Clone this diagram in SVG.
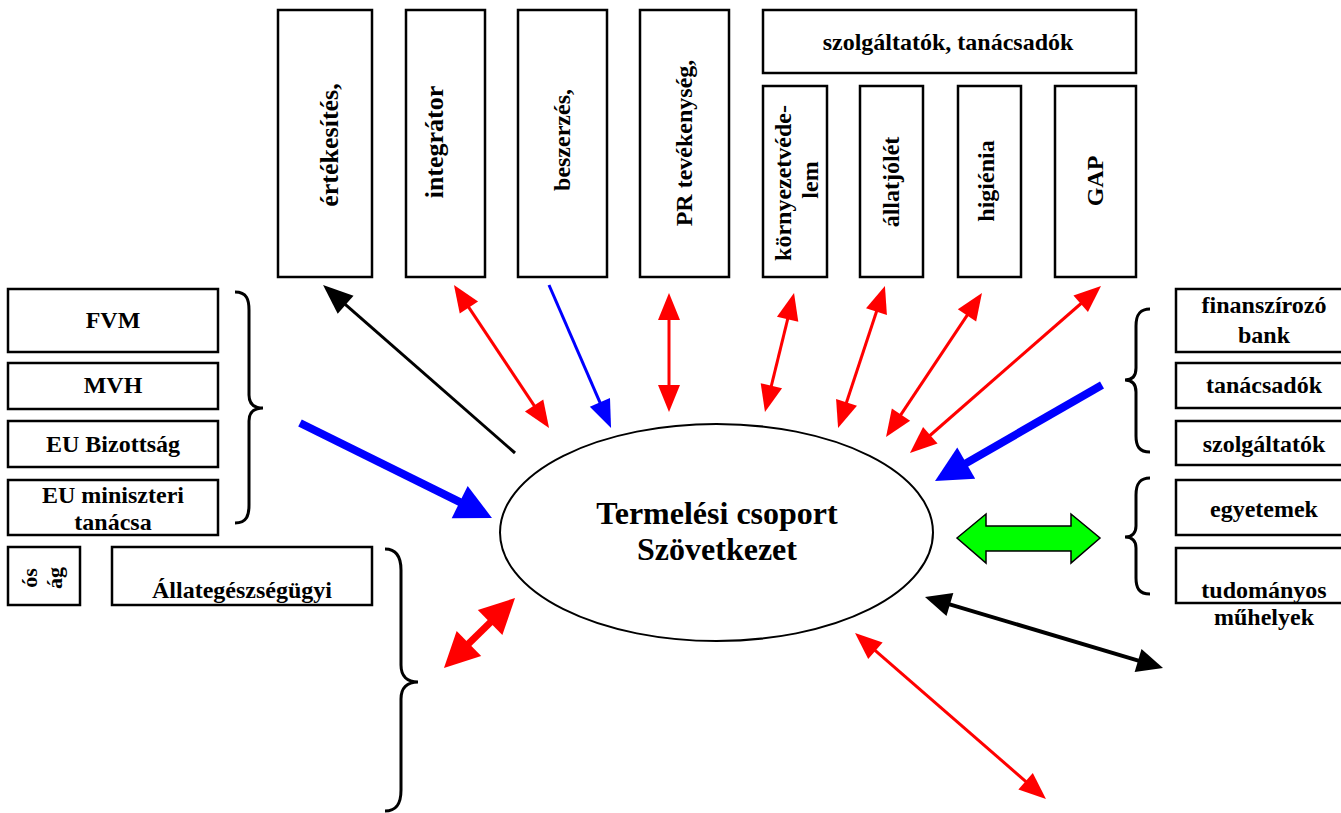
<svg xmlns="http://www.w3.org/2000/svg" width="1341" height="813" viewBox="0 0 1341 813">
<style>
.box{fill:#fff;stroke:#000;stroke-width:2.5}
.t{font-family:"Liberation Serif","Times New Roman",serif;font-weight:bold;font-size:24px;fill:#000}
.m{text-anchor:middle}
.big{font-size:26px}
.huge{font-size:32px}
.sm{font-size:22px}
.brace{fill:none;stroke:#000;stroke-width:3}
.red{stroke:#f00;stroke-width:3;fill:none}
</style>
<defs>
<marker id="mRed" markerUnits="userSpaceOnUse" markerWidth="27" markerHeight="22" refX="2" refY="11" orient="auto-start-reverse" overflow="visible"><path d="M0,0 L27,11 L0,22 z" fill="#f00"/></marker>
<marker id="mBlack" markerUnits="userSpaceOnUse" markerWidth="30" markerHeight="24" refX="2" refY="12" orient="auto-start-reverse" overflow="visible"><path d="M0,0 L30,12 L0,24 z" fill="#000"/></marker>
<marker id="mBlack2" markerUnits="userSpaceOnUse" markerWidth="26" markerHeight="24" refX="2" refY="12" orient="auto-start-reverse" overflow="visible"><path d="M0,0 L26,12 L0,24 z" fill="#000"/></marker>
<marker id="mBlue" markerUnits="userSpaceOnUse" markerWidth="28" markerHeight="22" refX="2" refY="11" orient="auto-start-reverse" overflow="visible"><path d="M0,0 L28,11 L0,22 z" fill="#00f"/></marker>
<marker id="mBlueBig" markerUnits="userSpaceOnUse" markerWidth="36" markerHeight="36" refX="2" refY="18" orient="auto-start-reverse" overflow="visible"><path d="M0,0 L36,18 L0,36 z" fill="#00f"/></marker>
<marker id="mRedBig" markerUnits="userSpaceOnUse" markerWidth="35" markerHeight="35" refX="2" refY="17.5" orient="auto-start-reverse" overflow="visible"><path d="M0,0 L35,17.5 L0,35 z" fill="#f00"/></marker>
</defs>

<g id="top-nodes">
<g id="n-ertekesites"><rect class="box" x="278" y="10" width="94" height="267"/><text class="t m big" transform="translate(338,145) rotate(-90)">értékesítés,</text></g>
<g id="n-integrator"><rect class="box" x="406" y="10" width="79" height="267"/><text class="t m big" transform="translate(443,142) rotate(-90)">integrátor</text></g>
<g id="n-beszerzes"><rect class="box" x="518" y="10" width="89" height="267"/><text class="t m" transform="translate(570,140) rotate(-90)">beszerzés,</text></g>
<g id="n-pr"><rect class="box" x="640" y="10" width="89" height="267"/><text class="t m" transform="translate(692,143) rotate(-90)">PR tevékenység,</text></g>
<g id="n-szolg"><rect class="box" x="763" y="10" width="373" height="63"/><text class="t m" x="948" y="50">szolgáltatók, tanácsadók</text></g>
<g id="n-kornyezet"><rect class="box" x="763" y="86" width="64" height="191"/><text class="t m" transform="translate(791,183) rotate(-90)">környezetvéde-</text><text class="t m" transform="translate(818,180) rotate(-90)">lem</text></g>
<g id="n-allatjolet"><rect class="box" x="860" y="86" width="63" height="191"/><text class="t m" transform="translate(899,182) rotate(-90)">állatjólét</text></g>
<g id="n-higienia"><rect class="box" x="958" y="86" width="63" height="191"/><text class="t m" transform="translate(994,181) rotate(-90)">higiénia</text></g>
<g id="n-gap"><rect class="box" x="1055" y="86" width="81" height="191"/><text class="t m" transform="translate(1103,181) rotate(-90)">GAP</text></g>
</g>

<g id="left-nodes">
<g id="n-fvm"><rect class="box" x="8" y="289" width="210" height="63"/><text class="t m" x="113" y="328">FVM</text></g>
<g id="n-mvh"><rect class="box" x="8" y="363" width="210" height="46"/><text class="t m" x="113" y="393">MVH</text></g>
<g id="n-eub"><rect class="box" x="8" y="421" width="210" height="46"/><text class="t m" x="113" y="452">EU Bizottság</text></g>
<g id="n-eum"><rect class="box" x="8" y="480" width="210" height="55"/><text class="t m" x="113" y="503">EU miniszteri</text><text class="t m" x="113" y="530">tanácsa</text></g>
<g id="n-hatosag"><rect class="box" x="8" y="547" width="72" height="58"/><text class="t m sm" transform="translate(37,578) rotate(-90)">ós</text><text class="t m sm" transform="translate(62,578) rotate(-90)">ág</text></g>
<g id="n-allategeszseg"><rect class="box" x="112" y="547" width="260" height="58"/><text class="t m" x="242" y="598">Állategészségügyi</text></g>
</g>

<g id="right-nodes">
<g id="n-bank"><rect class="box" x="1176" y="289" width="180" height="63"/><text class="t m" x="1264" y="313">finanszírozó</text><text class="t m" x="1264" y="343">bank</text></g>
<g id="n-tanacsadok"><rect class="box" x="1176" y="363" width="180" height="45"/><text class="t m" x="1264" y="393">tanácsadók</text></g>
<g id="n-szolgaltatok"><rect class="box" x="1176" y="421" width="180" height="44"/><text class="t m" x="1264" y="452">szolgáltatók</text></g>
<g id="n-egyetemek"><rect class="box" x="1176" y="480" width="180" height="55"/><text class="t m" x="1264" y="517">egyetemek</text></g>
<g id="n-tudomanyos"><rect class="box" x="1176" y="548" width="180" height="55"/><text class="t m" x="1264" y="598">tudományos</text><text class="t m" x="1264" y="625">műhelyek</text></g>
</g>

<g id="center">
<ellipse cx="716.5" cy="532.5" rx="216.5" ry="108.5" fill="#fff" stroke="#000" stroke-width="2"/>
<text class="t m huge" x="717" y="524">Termelési csoport</text>
<text class="t m huge" x="717" y="560">Szövetkezet</text>
</g>

<g id="braces">
<path class="brace" d="M235,292 C247,292 249,300 249,310 L249,395 C249,404 254,408 263,408 C254,408 249,412 249,421 L249,505 C249,515 247,523 235,523"/>
<path class="brace" d="M385,549 C397,549 401,558 401,570 L401,665 C401,676 407,682 418,682 C407,682 401,688 401,699 L401,790 C401,803 397,811 385,811"/>
<path class="brace" d="M1150,309 C1139,309 1136,316 1136,326 L1136,368 C1136,376 1132,380 1125,380 C1132,380 1136,384 1136,392 L1136,436 C1136,446 1139,452 1150,452"/>
<path class="brace" d="M1150,478 C1139,478 1136,485 1136,495 L1136,526 C1136,533 1132,537 1125,537 C1132,537 1136,541 1136,548 L1136,578 C1136,588 1139,594 1150,594"/>
</g>

<g id="connectors">
<line x1="515" y1="453" x2="344.1" y2="303.4" stroke="#000" stroke-width="3" marker-end="url(#mBlack)"/>
<line class="red" x1="467.8" y1="305.8" x2="535.2" y2="407.2" marker-start="url(#mRed)" marker-end="url(#mRed)"/>
<line x1="549" y1="285" x2="600.7" y2="404.1" stroke="#00f" stroke-width="3" marker-end="url(#mBlue)"/>
<line class="red" x1="669" y1="318" x2="669" y2="387" marker-start="url(#mRed)" marker-end="url(#mRed)"/>
<line class="red" x1="788.1" y1="317.3" x2="770.9" y2="387.7" marker-start="url(#mRed)" marker-end="url(#mRed)"/>
<line class="red" x1="877.1" y1="309.7" x2="845.9" y2="404.3" marker-start="url(#mRed)" marker-end="url(#mRed)"/>
<line class="red" x1="968.1" y1="313.8" x2="899.9" y2="416.2" marker-start="url(#mRed)" marker-end="url(#mRed)"/>
<line class="red" x1="1082.2" y1="302.5" x2="928.8" y2="436.5" marker-start="url(#mRed)" marker-end="url(#mRed)"/>
<line x1="1102" y1="385" x2="964.5" y2="464.1" stroke="#00f" stroke-width="8" marker-end="url(#mBlueBig)"/>
<line x1="300" y1="423" x2="461.5" y2="502.9" stroke="#00f" stroke-width="8" marker-end="url(#mBlueBig)"/>
<line x1="467.5" y1="644.8" x2="491.5" y2="621.2" stroke="#f00" stroke-width="7" marker-start="url(#mRedBig)" marker-end="url(#mRedBig)"/>
<line x1="948" y1="603.9" x2="1140" y2="661.1" stroke="#000" stroke-width="4" marker-start="url(#mBlack2)" marker-end="url(#mBlack2)"/>
<line class="red" x1="873.9" y1="649.4" x2="1027.1" y2="782.6" marker-start="url(#mRed)" marker-end="url(#mRed)"/>
<path d="M957,538 L986,514 L986,526 L1071,526 L1071,514 L1100,538 L1071,563 L1071,551 L986,551 L986,563 z" fill="#00ff00" stroke="#000" stroke-width="1.5"/>
</g>
</svg>
